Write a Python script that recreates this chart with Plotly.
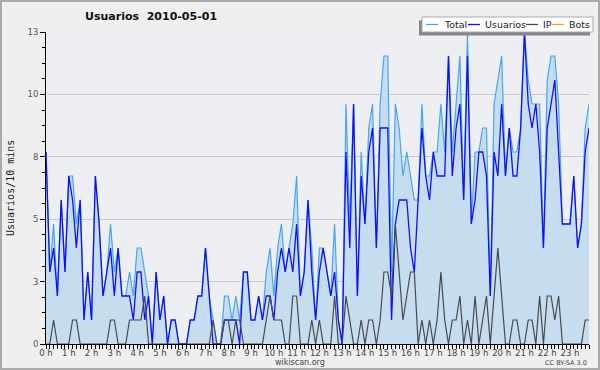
import plotly.graph_objects as go

# 10-minute slots over the day (0 = 00:00 ... 143 = 23:50)
slots = list(range(144))

total = [8,3,5,2,6,3,7,7,5,6, 1,3,1,7,5,2,3,5,3,4,
         2,2,3,2,4,4,3,2,0,3, 1,2,0,1,1,0,0,0,1,1,
         2,2,4,2,1,0,0,2,2,1, 2,1,3,3,1,1,2,1,3,4,
         2,4,5,3,4,5,7,2,3,6, 4,1,4,4,3,2,5,1,0,10,
         5,10,2,8,5,9,10,4,10,12, 12,3,10,9,7,8,7,6,6,10,
         7,7,8,8,10,8,12,8,10,12, 6,13,5,8,8,9,9,2,10,11,
         12,7,9,8,8,9,13,11,10,10, 10,4,11,12,12,10,5,5,5,7,
         4,5,9,10]

usuarios = [8,3,4,2,6,3,7,6,4,6, 1,3,1,7,5,2,3,4,2,4,
            2,2,2,1,3,3,1,2,0,3, 1,2,0,1,1,0,0,0,1,1,
            2,2,4,2,0,0,0,1,1,1, 1,0,3,3,1,1,2,1,2,2,
            1,3,4,3,4,3,5,2,3,6, 3,1,3,4,3,2,3,1,0,8,
            4,10,2,7,5,8,9,4,9,9, 9,1,5,6,6,6,4,3,6,9,
            7,6,8,7,7,7,12,7,9,10, 6,12,5,6,8,8,7,2,8,7,
            10,7,9,7,7,9,13,10,9,10, 8,4,9,10,11,8,5,5,5,7,
            4,5,8,9]

ip = [0,0,1,0,0,0,0,1,1,0, 0,0,0,0,0,0,0,1,1,0,
      0,0,1,1,1,1,2,0,0,0, 0,0,0,0,0,0,0,0,0,0,
      0,0,0,0,1,0,0,1,1,0, 1,1,0,0,0,0,0,0,1,2,
      1,1,1,0,0,2,2,0,0,0, 1,0,1,0,0,0,2,0,0,2,
      1,0,0,1,0,1,1,0,1,3, 3,2,5,3,1,2,3,3,0,1,
      0,1,0,1,3,1,0,1,1,2, 0,1,0,2,0,1,2,0,2,4,
      2,0,0,1,1,0,0,1,1,0, 2,0,2,2,1,2,0,0,0,0,
      0,0,1,1]

bots = [0]*144

series_names = ["Total", "Usuarios", "IP", "Bots"]
series_colors = ["#46a6f2", "#1010ff", "#4a4a4a", "#ffa500"]

hour_vals = [h*6 for h in range(24)]
hour_text = [f"{h} h" for h in range(24)]

y_vals = [0, 2.6, 5.2, 7.8, 10.4, 13]
y_text = ["0", "3", "5", "8", "10", "13"]

FONT = "DejaVu Sans"
L, R, T, B = 46, 589, 32, 344      # plot box in pixels
W, H = R - L, B - T

def px(x):
    return (x - L) / W

def py(y):
    return (B - y) / H

fig = go.Figure()
fig.add_trace(go.Scatter(x=slots, y=bots, name="Bots", mode="lines",
                         line=dict(color=series_colors[3], width=1.2)))
fig.add_trace(go.Scatter(x=slots, y=total, name="Total", mode="lines",
                         fill="tozeroy", fillcolor="#c6ddf0",
                         line=dict(color=series_colors[0], width=1.2)))
fig.add_trace(go.Scatter(x=slots, y=usuarios, name="Usuarios", mode="lines",
                         line=dict(color=series_colors[1], width=1.3)))
fig.add_trace(go.Scatter(x=slots, y=ip, name="IP", mode="lines",
                         line=dict(color=series_colors[2], width=1.2)))

fig.update_layout(
    width=600, height=370,
    margin=dict(l=L, r=600 - R, t=T, b=370 - B),
    paper_bgcolor="#efefef",
    plot_bgcolor="#eeeff2",
    font=dict(family=FONT, size=9, color="#444"),
    title=dict(text="Usuarios\u00a0\u00a02010-05-01", x=85/600, xanchor="left",
               xref="container", y=1-16/370, yref="container", yanchor="middle",
               font=dict(family=FONT, size=11, color="#111", weight="bold")),
    showlegend=False,
    xaxis=dict(range=[0, 143], tickvals=hour_vals, ticktext=hour_text, tickangle=0,
               ticks="outside", ticklen=4, tickcolor="#000", tickwidth=1,
               minor=dict(dtick=1, ticks="outside", ticklen=4, tickcolor="#000"),
               showline=True, linecolor="#000", linewidth=1,
               showgrid=False, zeroline=False, ticklabelstandoff=-3,
               tickfont=dict(family=FONT, size=8.5, color="#444")),
    yaxis=dict(range=[0, 13], tickvals=y_vals, ticktext=y_text,
               ticks="outside", ticklen=5, tickcolor="#000",
               minor=dict(dtick=0.65, tick0=0, ticks="outside", ticklen=3, tickcolor="#000"),
               showline=True, linecolor="#000", linewidth=1,
               showgrid=True, gridcolor="#cbcbcf", gridwidth=1, zeroline=False,
               tickfont=dict(family=FONT, size=8.5, color="#555")),
)

fig.add_annotation(text="Usuarios/10 mins", xref="paper", yref="paper",
                   x=px(10), xanchor="center", y=0.5, yanchor="middle",
                   textangle=-90, showarrow=False,
                   font=dict(family="DejaVu Sans Mono", size=10, color="#222"))
fig.add_annotation(text="wikiscan.org", xref="paper", yref="paper",
                   x=px(300), xanchor="center", y=py(362), yanchor="middle",
                   showarrow=False, font=dict(family=FONT, size=8, color="#444"))
fig.add_annotation(text="CC BY-SA 3.0", xref="paper", yref="paper",
                   x=px(589), xanchor="right", y=py(362.5), yanchor="middle",
                   showarrow=False, font=dict(family=FONT, size=6.5, color="#444"))

# legend box: shadow, white box, line keys and labels
fig.add_shape(type="rect", xref="paper", yref="paper",
              x0=px(419), x1=px(590), y0=py(35.5), y1=py(20.5),
              fillcolor="#858585", line=dict(width=0))
fig.add_shape(type="rect", xref="paper", yref="paper",
              x0=px(422), x1=px(593), y0=py(32), y1=py(17),
              fillcolor="white", line=dict(color="#aaa", width=1))
key_x = [426, 468, 526, 552]
text_x = [442, 483, 541, 567]
for name, color, kx, tx in zip(series_names, series_colors, key_x, text_x):
    fig.add_shape(type="line", xref="paper", yref="paper",
                  x0=px(kx), x1=px(kx + 12), y0=py(24.5), y1=py(24.5),
                  line=dict(color=color, width=1.3))
    fig.add_annotation(text=name, xref="paper", yref="paper",
                       x=px(tx), xanchor="left", y=py(24.5), yanchor="middle",
                       showarrow=False,
                       font=dict(family=FONT, size=9.5, color="#222"))

# outer frame
fig.add_shape(type="rect", xref="paper", yref="paper",
              x0=px(1), x1=px(599), y0=py(369), y1=py(1),
              line=dict(color="#aaa", width=2), layer="below")

fig.write_html("out.html", config={"displayModeBar": False},
               post_script="document.body.style.margin='0';document.body.style.overflow='hidden';")
